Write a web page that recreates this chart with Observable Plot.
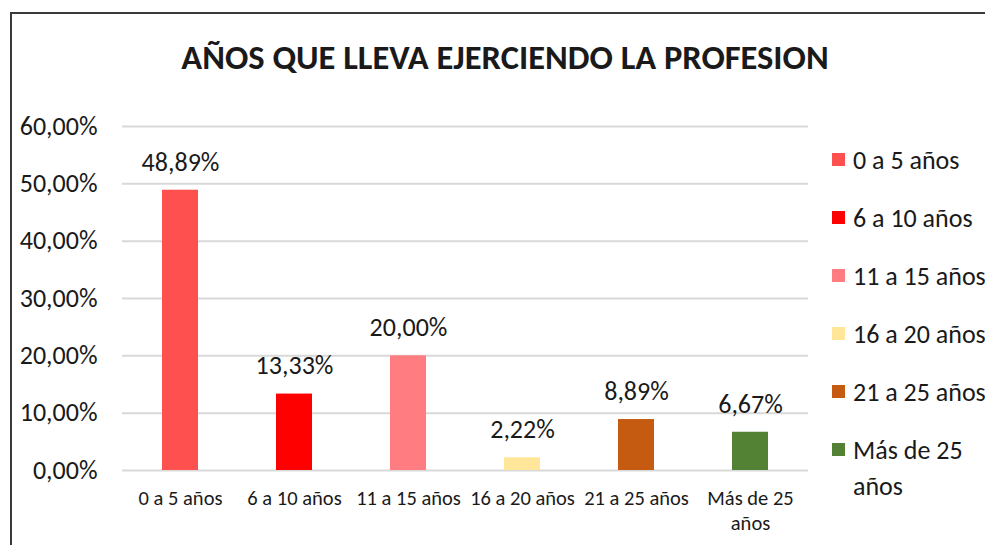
<!DOCTYPE html>
<html>
<head>
<meta charset="utf-8">
<script src="https://cdn.jsdelivr.net/npm/d3@7"></script>
<script src="https://cdn.jsdelivr.net/npm/@observablehq/plot@0.6"></script>
<style>
  html, body { margin: 0; padding: 0; width: 985px; height: 545px; overflow: hidden; background: #fff; }
  body { font-family: Carlito, Calibri, Lato, sans-serif; color: #1a1a1a; position: relative; }
  #frame { position: absolute; left: 10px; top: 12px; width: 1000px; height: 560px; border: 2px solid #3a3a3a; box-sizing: border-box; }
  #title { position: absolute; left: 0; width: 1010px; top: 36px; text-align: center; font-weight: bold; font-size: 34.5px; line-height: 42px; }
  #chart { position: absolute; left: 0; top: 100px; }
  #legend { position: absolute; left: 832px; top: 0; }
  .li { position: absolute; left: 0; display: flex; align-items: flex-start; white-space: nowrap; font-size: 26px; line-height: 36px; }
  .sw { width: 13px; height: 13px; margin-top: 11px; margin-right: 8px; flex: none; }
</style>
</head>
<body>
<div id="frame"></div>
<div id="title">AÑOS QUE LLEVA EJERCIENDO LA PROFESION</div>
<div id="chart"></div>
<div id="legend"></div>
<script>
const categories = ["0 a 5 años", "6 a 10 años", "11 a 15 años", "16 a 20 años", "21 a 25 años", "Más de 25 años"];
const axisLabels = ["0 a 5 años", "6 a 10 años", "11 a 15 años", "16 a 20 años", "21 a 25 años", "Más de 25\naños"];
const legendLabels = ["0 a 5 años", "6 a 10 años", "11 a 15 años", "16 a 20 años", "21 a 25 años", "Más de 25<br>años"];
const values = [0.4889, 0.1333, 0.2000, 0.0222, 0.0889, 0.0667];
const colors = ["#FF5050", "#FF0000", "#FF7C80", "#FFE699", "#C55A11", "#548235"];
const yTicks = [0, 0.1, 0.2, 0.3, 0.4, 0.5, 0.6];

const data = categories.map((c, i) => ({cat: c, value: values[i], label: axisLabels[i]}));
const fmt = v => (v * 100).toFixed(2).replace(".", ",") + "%";

const chart = Plot.plot({
  width: 815,
  height: 445,
  marginLeft: 122,
  marginRight: 7,
  marginTop: 26,
  marginBottom: 75,
  style: { fontFamily: "Carlito, Calibri, Lato, sans-serif", color: "#1a1a1a", background: "transparent", overflow: "visible" },
  x: { domain: categories, paddingInner: 0.685, paddingOuter: 0.3425, label: null },
  y: { domain: [0, 0.6], label: null },
  color: { domain: categories, range: colors },
  marks: [
    Plot.gridY(yTicks, { stroke: "#d9d9d9", strokeOpacity: 1, strokeWidth: 2 }),
    Plot.barY(data, { x: "cat", y: "value", fill: "cat" }),
    Plot.text(data, { x: "cat", y: "value", text: d => fmt(d.value), dy: -28, fontSize: 26, fill: "#1a1a1a" }),
    Plot.axisY({ ticks: yTicks, tickFormat: fmt, tickSize: 0, tickPadding: 25, fontSize: 26, label: null }),
    Plot.axisX({ tickSize: 0, tickPadding: 17, fontSize: 20.5, lineHeight: 1.2, label: null, tickFormat: (d) => axisLabels[categories.indexOf(d)] })
  ]
});
document.getElementById("chart").appendChild(chart);

const legend = document.getElementById("legend");
legendLabels.forEach((lab, i) => {
  const div = document.createElement("div");
  div.className = "li";
  div.style.top = (142 + i * 58) + "px";
  div.innerHTML = `<span class="sw" style="background:${colors[i]}"></span><span>${lab}</span>`;
  legend.appendChild(div);
});
</script>
</body>
</html>
